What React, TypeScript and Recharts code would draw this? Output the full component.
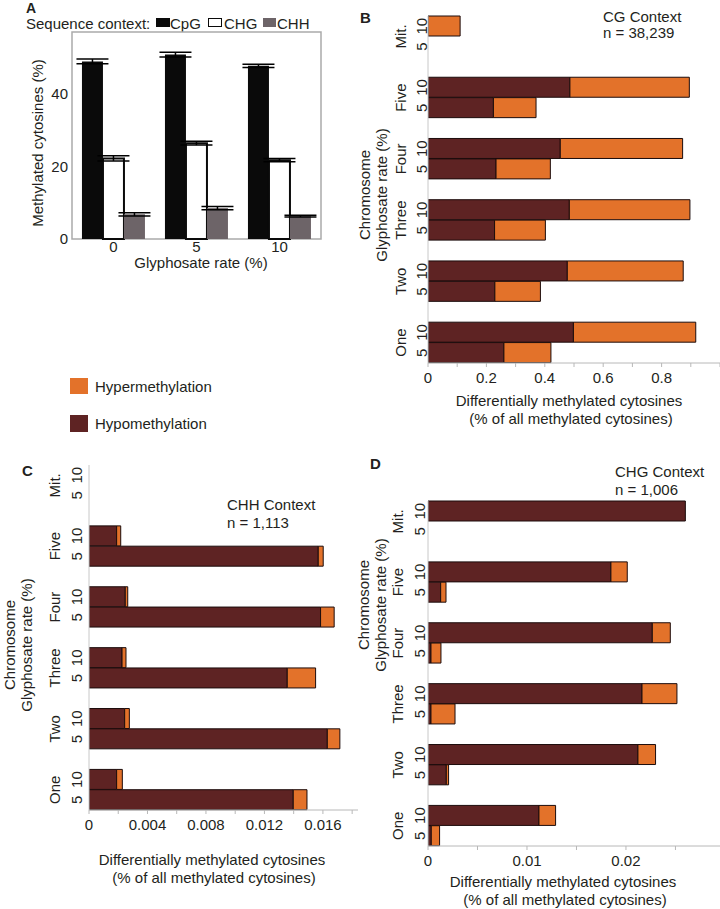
import React from "react";
import { BarChart, Bar, XAxis, YAxis, ErrorBar, ReferenceArea } from "recharts";

const FONT = '"Liberation Sans", Arial, Helvetica, sans-serif';
const TEXT = "#231f20";
const HYPER = "#e3722a";
const HYPO = "#5e2323";
const EDGE = "#1c0c0c";

// panel A: methylation level by sequence context
const rates = ["0", "5", "10"];
const cpgValues = [48.9, 50.8, 47.7];
const cpgErrors = [0.65, 0.65, 0.45];
const chgValues = [22.2, 26.4, 21.7];
const chgErrors = [0.7, 0.55, 0.45];
const chhValues = [6.8, 8.5, 6.3];
const chhErrors = [0.45, 0.45, 0.25];
const contextTicks = [0, 20, 40];

// panels B-D: chromosome x glyphosate rate rows
const chromosomes = ["Mit.", "Five", "Four", "Three", "Two", "One"];

// CG context
const cgHypo10 = [0, 0.486, 0.453, 0.484, 0.477, 0.498];
const cgHyper10 = [0.11, 0.409, 0.419, 0.413, 0.397, 0.419];
const cgHypo5 = [0, 0.224, 0.233, 0.228, 0.229, 0.26];
const cgHyper5 = [0, 0.146, 0.186, 0.174, 0.156, 0.161];
const cgTicks = [0, 0.1, 0.2, 0.3, 0.4, 0.5, 0.6, 0.7, 0.8, 0.9, 1];
const cgTickLabels = ["0", "", "0.2", "", "0.4", "", "0.6", "", "0.8", "", ""];

// CHH context
const chhHypo10 = [0, 0.00189, 0.00248, 0.00226, 0.00244, 0.00189];
const chhHyper10 = [0, 0.00028, 0.00017, 0.00027, 0.00032, 0.00039];
const chhHypo5 = [0, 0.01568, 0.01584, 0.01356, 0.0163, 0.01397];
const chhHyper5 = [0, 0.00034, 0.00093, 0.00194, 0.00086, 0.00094];
const chhTicks = [0, 0.002, 0.004, 0.006, 0.008, 0.01, 0.012, 0.014, 0.016, 0.018];
const chhTickLabels = ["0", "", "0.004", "", "0.008", "", "0.012", "", "0.016", ""];

// CHG context
const chgHypo10 = [0.026, 0.01848, 0.02266, 0.02162, 0.02121, 0.01121];
const chgHyper10 = [0, 0.00165, 0.00182, 0.00353, 0.00178, 0.00168];
const chgHypo5 = [0, 0.00128, 0.0003, 0.0003, 0.00185, 0.00033];
const chgHyper5 = [0, 0.00054, 0.00101, 0.00243, 0.00023, 0.00084];
const chgTicks = [0, 0.005, 0.01, 0.015, 0.02, 0.025];
const chgTickLabels = ["0", "", "0.01", "", "0.02", ""];

function buildRows(hypo10, hyper10, hypo5, hyper5) {
  const rows = [];
  chromosomes.forEach((c, i) => {
    rows.push({ row: `${c}|10`, hypo: hypo10[i], hyper: hyper10[i] });
    rows.push({ row: `${c}|5`, hypo: hypo5[i], hyper: hyper5[i] });
    if (i < chromosomes.length - 1) rows.push({ row: `gap${i}`, hypo: 0, hyper: 0 });
  });
  return rows;
}

const contextData = rates.map((rate, i) => ({
  rate,
  cpg: cpgValues[i],
  cpgErr: cpgErrors[i],
  chg: chgValues[i],
  chgErr: chgErrors[i],
  chh: chhValues[i],
  chhErr: chhErrors[i],
}));

const Txt = ({ x, y, children, size = 15, center = false, bold = false }) => (
  <div
    style={{
      position: "absolute",
      left: x,
      top: y,
      transform: center ? "translate(-50%, -50%)" : "translate(0, -50%)",
      fontSize: size,
      fontWeight: bold ? 700 : 400,
      lineHeight: 1,
      whiteSpace: "nowrap",
      color: TEXT,
    }}
  >
    {children}
  </div>
);

const RotTitle = ({ x, y, lines, size = 15, lh = 17 }) => (
  <div
    style={{
      position: "absolute",
      left: x,
      top: y,
      transform: "translate(-50%, -50%) rotate(-90deg)",
      fontSize: size,
      lineHeight: `${lh}px`,
      textAlign: "center",
      whiteSpace: "nowrap",
      color: TEXT,
    }}
  >
    {lines.map((l) => (
      <div key={l}>{l}</div>
    ))}
  </div>
);

const RowTick = (props) => {
  const { x, y, payload, rowH, digitDx, nameDx } = props;
  const key = String(payload.value);
  if (key.startsWith("gap")) return <g />;
  const [name, rate] = key.split("|");
  const dx = x - digitDx;
  const nx = x - nameDx;
  const ny = y + rowH / 2;
  return (
    <g>
      <text x={dx} y={y} transform={`rotate(-90, ${dx}, ${y})`} textAnchor="middle" dominantBaseline="central" fontSize={15} fill={TEXT}>
        {rate}
      </text>
      {rate === "10" && (
        <text x={nx} y={ny} transform={`rotate(-90, ${nx}, ${ny})`} textAnchor="middle" dominantBaseline="central" fontSize={15} fill={TEXT}>
          {name}
        </text>
      )}
    </g>
  );
};

function MethylPanel({ left, top, width, height, rows, domain, ticks, tickLabels, yAxisW, marginTop, marginRight, plotH, digitDx, nameDx }) {
  const rowH = plotH / rows.length;
  return (
    <div style={{ position: "absolute", left, top }}>
      <BarChart
        width={width}
        height={height}
        data={rows}
        layout="vertical"
        margin={{ top: marginTop, right: marginRight, bottom: 0, left: 0 }}
        barCategoryGap={0}
      >
        <XAxis
          type="number"
          domain={domain}
          ticks={ticks}
          interval={0}
          allowDataOverflow
          tickFormatter={(v, i) => tickLabels[i]}
          height={height - marginTop - plotH}
          axisLine={{ stroke: "#b8b8b8" }}
          tickLine={{ stroke: "#b8b8b8" }}
          tickSize={4}
          tickMargin={5}
          tick={{ fontSize: 15, fill: TEXT }}
        />
        <YAxis
          type="category"
          dataKey="row"
          width={yAxisW}
          interval={0}
          axisLine={{ stroke: "#c8c8c8" }}
          tickLine={false}
          tickSize={0}
          tickMargin={0}
          tick={(p) => <RowTick {...p} rowH={rowH} digitDx={digitDx} nameDx={nameDx} />}
        />
        <Bar dataKey="hypo" stackId="m" fill={HYPO} stroke={EDGE} strokeWidth={1} isAnimationActive={false} />
        <Bar dataKey="hyper" stackId="m" fill={HYPER} stroke={EDGE} strokeWidth={1} isAnimationActive={false} />
      </BarChart>
    </div>
  );
}

export default function App() {
  return (
    <div style={{ position: "absolute", left: 0, top: 0, width: 720, height: 909, background: "#fff", fontFamily: FONT, overflow: "hidden" }}>
      {/* A */}
      <Txt x={26} y={8} size={14} bold>A</Txt>
      <Txt x={26} y={23}>Sequence context:</Txt>
      <div style={{ position: "absolute", left: 156, top: 18, width: 14, height: 9, background: "#0a0a0a" }} />
      <Txt x={170} y={23}>CpG</Txt>
      <div style={{ position: "absolute", left: 208, top: 18, width: 12, height: 7, border: "1.5px solid #0a0a0a", background: "#fff" }} />
      <Txt x={224} y={23}>CHG</Txt>
      <div style={{ position: "absolute", left: 263, top: 18, width: 13, height: 9, background: "#6d6468" }} />
      <Txt x={277} y={23}>CHH</Txt>
      <div style={{ position: "absolute", left: 0, top: 0 }}>
        <BarChart
          width={330}
          height={270}
          data={contextData}
          margin={{ top: 32, right: 9, bottom: 0, left: 0 }}
          barCategoryGap="12%"
          barGap={0}
        >
          <XAxis dataKey="rate" height={31} axisLine={false} tickLine={false} tickSize={0} tickMargin={2} tick={{ fontSize: 15, fill: TEXT }} />
          <YAxis domain={[0, 57]} ticks={contextTicks} width={72} axisLine={false} tickLine={false} tickSize={0} tickMargin={4} tick={{ fontSize: 15, fill: TEXT }} />
          <ReferenceArea y1={0} y2={57} fill="none" stroke="#aaaaaa" strokeWidth={1.5} />
          <Bar dataKey="cpg" fill="#0a0a0a" isAnimationActive={false}>
            <ErrorBar dataKey="cpgErr" width={16} stroke="#000" strokeWidth={1.5} />
          </Bar>
          <Bar dataKey="chg" fill="#fff" stroke="#0a0a0a" strokeWidth={2} isAnimationActive={false}>
            <ErrorBar dataKey="chgErr" width={16} stroke="#000" strokeWidth={1.5} />
          </Bar>
          <Bar dataKey="chh" fill="#6d6468" isAnimationActive={false}>
            <ErrorBar dataKey="chhErr" width={16} stroke="#000" strokeWidth={1.5} />
          </Bar>
        </BarChart>
      </div>
      <RotTitle x={37} y={143} lines={["Methylated cytosines (%)"]} />
      <Txt x={201} y={262} center>Glyphosate rate (%)</Txt>

      {/* legend for B-D */}
      <div style={{ position: "absolute", left: 70, top: 378, width: 18, height: 16, background: HYPER }} />
      <Txt x={95} y={386}>Hypermethylation</Txt>
      <div style={{ position: "absolute", left: 70, top: 415, width: 18, height: 17, background: HYPO }} />
      <Txt x={95} y={423}>Hypomethylation</Txt>

      {/* B */}
      <Txt x={360} y={17} bold>B</Txt>
      <MethylPanel
        left={360} top={0} width={360} height={420}
        rows={buildRows(cgHypo10, cgHyper10, cgHypo5, cgHyper5)}
        domain={[0, 1]} ticks={cgTicks} tickLabels={cgTickLabels}
        yAxisW={68} marginTop={16} marginRight={0} plotH={347}
        digitDx={6} nameDx={27}
      />
      <Txt x={603} y={16}>CG Context</Txt>
      <Txt x={603} y={32}>n = 38,239</Txt>
      <RotTitle x={373} y={195} lines={["Chromosome", "Glyphosate rate (%)"]} />
      <Txt x={569} y={400} center>Differentially methylated cytosines</Txt>
      <Txt x={571} y={418} center>(% of all methylated cytosines)</Txt>

      {/* C */}
      <Txt x={22} y={470} bold>C</Txt>
      <MethylPanel
        left={0} top={460} width={360} height={400}
        rows={buildRows(chhHypo10, chhHyper10, chhHypo5, chhHyper5)}
        domain={[0, 0.0184]} ticks={chhTicks} tickLabels={chhTickLabels}
        yAxisW={89} marginTop={5} marginRight={2} plotH={345}
        digitDx={12} nameDx={34}
      />
      <Txt x={227} y={504}>CHH Context</Txt>
      <Txt x={227} y={522}>n = 1,113</Txt>
      <RotTitle x={18} y={645} lines={["Chromosome", "Glyphosate rate (%)"]} />
      <Txt x={212} y={859} center>Differentially methylated cytosines</Txt>
      <Txt x={214} y={877} center>(% of all methylated cytosines)</Txt>

      {/* D */}
      <Txt x={370} y={463} bold>D</Txt>
      <MethylPanel
        left={360} top={460} width={360} height={420}
        rows={buildRows(chgHypo10, chgHyper10, chgHypo5, chgHyper5)}
        domain={[0, 0.0295]} ticks={chgTicks} tickLabels={chgTickLabels}
        yAxisW={68} marginTop={41} marginRight={0} plotH={345}
        digitDx={8} nameDx={30}
      />
      <Txt x={615} y={471}>CHG Context</Txt>
      <Txt x={615} y={489}>n = 1,006</Txt>
      <RotTitle x={372} y={605} lines={["Chromosome", "Glyphosate rate (%)"]} />
      <Txt x={563} y={881} center>Differentially methylated cytosines</Txt>
      <Txt x={565} y={899} center>(% of all methylated cytosines)</Txt>
    </div>
  );
}
